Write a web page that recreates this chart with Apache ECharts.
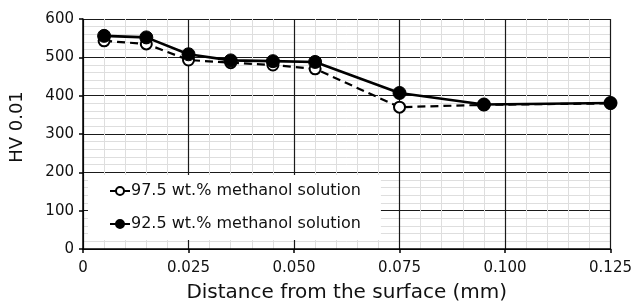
<!DOCTYPE html>
<html>
<head>
<meta charset="utf-8">
<script src="https://cdn.jsdelivr.net/npm/echarts@6/dist/echarts.min.js"></script>
<style>html,body{margin:0;padding:0;background:#fff}#c{width:635px;height:308px}</style>
</head>
<body>
<div id="c"></div>
<script>
const distances = [0.005, 0.015, 0.025, 0.035, 0.045, 0.055, 0.075, 0.095, 0.125];
const hv975 = [543, 535, 493, 486, 480, 470, 370, 376, 380];
const hv925 = [556, 552, 508, 492, 490, 488, 407, 377, 381];
const seriesNames = ['97.5 wt.% methanol solution', '92.5 wt.% methanol solution'];
const xTicks = ['0', '0.025', '0.050', '0.075', '0.100', '0.125'];

const FONT = 'DejaVu Sans';
const chart = echarts.init(document.getElementById('c'));
const pairs = arr => distances.map((d, i) => [d, arr[i]]);
chart.setOption({
  animation: false,
  backgroundColor: '#fff',
  grid: { left: 80, right: 22, top: 19, bottom: 59 },
  xAxis: {
    type: 'value', min: 0, max: 0.125, interval: 0.025,
    name: 'Distance from the surface (mm)', nameLocation: 'middle', nameGap: 34,
    nameTextStyle: { fontFamily: FONT, fontSize: 20, color: '#111' },
    axisLine: { show: true, lineStyle: { color: '#000', width: 1.5 } },
    axisTick: { show: true, length: 4, lineStyle: { color: '#000', width: 1.5 } },
    axisLabel: { fontFamily: FONT, fontSize: 15, color: '#111', margin: 12,
      formatter: v => xTicks[Math.round(v / 0.025)] },
    splitLine: { show: true, lineStyle: { color: '#1a1a1a', width: 1.2 } },
    minorTick: { show: false, splitNumber: 5 },
    minorSplitLine: { show: true, lineStyle: { color: '#dedede', width: 1 } }
  },
  yAxis: {
    type: 'value', min: 0, max: 600, interval: 100,
    name: 'HV 0.01', nameLocation: 'middle', nameGap: 57,
    nameTextStyle: { fontFamily: FONT, fontSize: 18, color: '#111', padding: [0, 0, 0, 14] },
    axisLine: { show: true, lineStyle: { color: '#000', width: 1.5 } },
    axisTick: { show: true, length: 4, lineStyle: { color: '#000', width: 1.5 } },
    axisLabel: { fontFamily: FONT, fontSize: 15, color: '#111', margin: 9 },
    splitLine: { show: true, lineStyle: { color: '#1a1a1a', width: 1.2 } },
    minorTick: { show: false, splitNumber: 5 },
    minorSplitLine: { show: true, lineStyle: { color: '#dedede', width: 1 } }
  },
  legend: {
    orient: 'vertical', left: 88, top: 175,
    backgroundColor: '#fff',
    padding: [8, 20, 8, 21],
    itemWidth: 20, itemHeight: 10, itemGap: 17,
    textStyle: { fontFamily: FONT, fontSize: 16, color: '#111', padding: [0, 0, 0, -4] },
    data: seriesNames
  },
  series: [
    {
      name: seriesNames[0], type: 'line', data: pairs(hv975),
      symbol: 'circle', symbolSize: 11,
      lineStyle: { color: '#000', width: 2.2, type: [8, 5] },
      itemStyle: { color: '#fff', borderColor: '#000', borderWidth: 2 }
    },
    {
      name: seriesNames[1], type: 'line', data: pairs(hv925),
      symbol: 'circle', symbolSize: 13,
      lineStyle: { color: '#000', width: 2.6 },
      itemStyle: { color: '#000', borderColor: '#000', borderWidth: 1 }
    }
  ]
});
</script>
</body>
</html>
